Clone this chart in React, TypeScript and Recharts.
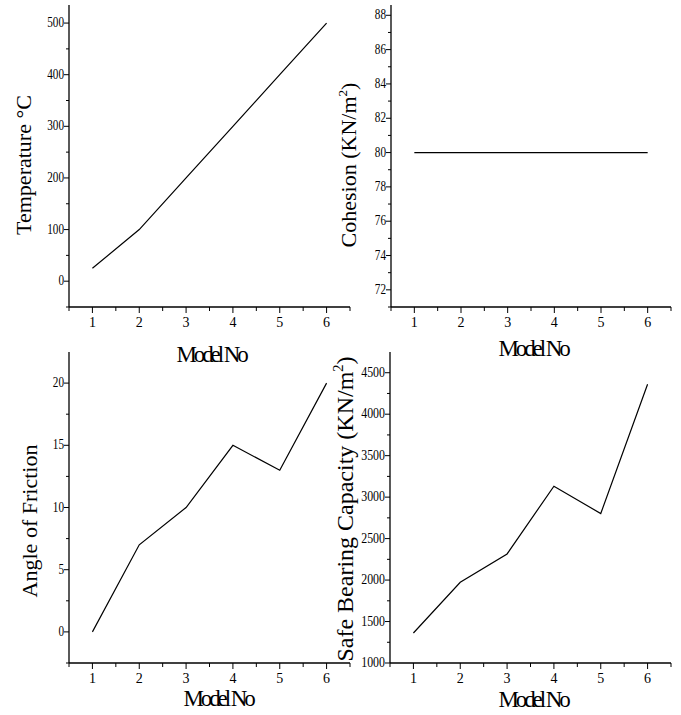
import React from 'react';
import { LineChart, Line, XAxis, YAxis, Label } from 'recharts';

const modelNo = [1, 2, 3, 4, 5, 6];
const temperature = [25, 100, 200, 300, 400, 500];
const cohesion = [80, 80, 80, 80, 80, 80];
const friction = [0, 7, 10, 15, 13, 20];
const bearing = [1362, 1974, 2315, 3132, 2802, 4362];

const xTicks = [0.5, 1, 1.5, 2, 2.5, 3, 3.5, 4, 4.5, 5, 5.5, 6, 6.5];
const tempTicks = [-50, 0, 50, 100, 150, 200, 250, 300, 350, 400, 450, 500];
const tempMajor = [0, 100, 200, 300, 400, 500];
const cohTicks = [71, 72, 73, 74, 75, 76, 77, 78, 79, 80, 81, 82, 83, 84, 85, 86, 87, 88];
const cohMajor = [72, 74, 76, 78, 80, 82, 84, 86, 88];
const fricTicks = [-2.5, 0, 2.5, 5, 7.5, 10, 12.5, 15, 17.5, 20];
const fricMajor = [0, 5, 10, 15, 20];
const bearTicks = [1000, 1250, 1500, 1750, 2000, 2250, 2500, 2750, 3000, 3250, 3500, 3750, 4000, 4250, 4500];
const bearMajor = [1000, 1500, 2000, 2500, 3000, 3500, 4000, 4500];

const FONT = '"Liberation Serif", "Times New Roman", serif';

const XTick = (props: any) => {
  const { x, y, payload } = props;
  const major = Number.isInteger(payload.value);
  return (
    <g>
      <line x1={x} y1={y} x2={x} y2={y + (major ? 6 : 4)} stroke="#000" strokeWidth={1} />
      {major && (
        <text x={x} y={y + 20} textAnchor="middle" fontSize={14} fontFamily={FONT} fill="#000">
          {payload.value}
        </text>
      )}
    </g>
  );
};

// y tick labels in the source look squeezed sideways
const makeYTick = (major: number[], squeeze: number) => (props: any) => {
  const { x, y, payload } = props;
  const isMajor = major.includes(payload.value);
  return (
    <g>
      <line x1={x - (isMajor ? 5 : 3)} y1={y} x2={x} y2={y} stroke="#000" strokeWidth={1} />
      {isMajor && (
        <text
          transform={`translate(${x - 5}, ${y + 4}) scale(${squeeze}, 1)`}
          x={0}
          y={0}
          textAnchor="end"
          fontSize={14}
          fontFamily={FONT}
          fill="#000"
        >
          {payload.value}
        </text>
      )}
    </g>
  );
};

const xTitle = (cx: number, by: number) => () => (
  <text x={cx} y={by} textAnchor="middle" fontSize={23} letterSpacing={-3.1} fontFamily={FONT} fill="#000">
    Model No
  </text>
);

const yTitle = (bx: number, cy: number, text: string, size: number, sup?: boolean) => () => (
  <text
    x={bx}
    y={cy}
    transform={`rotate(-90, ${bx}, ${cy})`}
    textAnchor="middle"
    fontSize={size}
    fontFamily={FONT}
    fill="#000"
  >
    {text}
    {sup && (
      <>
        <tspan fontSize={size * 0.6} dy={-size * 0.4}>2</tspan>
        <tspan dy={size * 0.4}>)</tspan>
      </>
    )}
  </text>
);

interface PanelProps {
  left: number;
  top: number;
  width: number;
  height: number;
  margin: { top: number; right: number; left: number; bottom: number };
  yWidth: number;
  xHeight: number;
  values: number[];
  yDomain: [number, number];
  yTicks: number[];
  yMajor: number[];
  squeeze: number;
  xLabel: () => React.ReactElement;
  yLabel: () => React.ReactElement;
}

const Panel: React.FC<PanelProps> = (p) => {
  const data = modelNo.map((m, i) => ({ model: m, value: p.values[i] }));
  return (
    <div style={{ position: 'absolute', left: p.left, top: p.top }}>
      <LineChart width={p.width} height={p.height} data={data} margin={p.margin}>
        <XAxis
          dataKey="model"
          type="number"
          domain={[0.5, 6.5]}
          ticks={xTicks}
          interval={0}
          height={p.xHeight}
          tickSize={0}
          tickMargin={0}
          tickLine={false}
          axisLine={{ stroke: '#000', strokeWidth: 1.3 }}
          tick={<XTick />}
          allowDataOverflow
        >
          <Label content={p.xLabel} />
        </XAxis>
        <YAxis
          type="number"
          domain={p.yDomain}
          ticks={p.yTicks}
          interval={0}
          width={p.yWidth}
          tickSize={0}
          tickMargin={0}
          tickLine={false}
          axisLine={{ stroke: '#000', strokeWidth: 1.3 }}
          tick={makeYTick(p.yMajor, p.squeeze)}
          allowDataOverflow
        >
          <Label content={p.yLabel} />
        </YAxis>
        <Line
          type="linear"
          dataKey="value"
          stroke="#000"
          strokeWidth={1.2}
          dot={false}
          isAnimationActive={false}
        />
      </LineChart>
    </div>
  );
};

export default function App() {
  return (
    <div style={{ position: 'absolute', left: 0, top: 0, width: 681, height: 715, background: '#fff' }}>
      <Panel
        left={0}
        top={0}
        width={355}
        height={367}
        margin={{ top: 5, right: 5, left: 0, bottom: 0 }}
        yWidth={69}
        xHeight={60}
        values={temperature}
        yDomain={[-50, 535]}
        yTicks={tempTicks}
        yMajor={tempMajor}
        squeeze={0.8}
        xLabel={xTitle(211, 362)}
        yLabel={yTitle(31, 165, 'Temperature °C', 22)}
      />
      <Panel
        left={330}
        top={0}
        width={351}
        height={367}
        margin={{ top: 5, right: 10, left: 0, bottom: 0 }}
        yWidth={61}
        xHeight={60}
        values={cohesion}
        yDomain={[71, 88.6]}
        yTicks={cohTicks}
        yMajor={cohMajor}
        squeeze={0.8}
        xLabel={xTitle(203, 356)}
        yLabel={yTitle(26, 165, 'Cohesion (KN/m', 22, true)}
      />
      <Panel
        left={0}
        top={340}
        width={355}
        height={375}
        margin={{ top: 12, right: 5, left: 0, bottom: 0 }}
        yWidth={69}
        xHeight={52}
        values={friction}
        yDomain={[-2.5, 22.5]}
        yTicks={fricTicks}
        yMajor={fricMajor}
        squeeze={0.8}
        xLabel={xTitle(218, 366)}
        yLabel={yTitle(37, 181, 'Angle of Friction', 22)}
      />
      <Panel
        left={330}
        top={340}
        width={351}
        height={375}
        margin={{ top: 12, right: 10, left: 0, bottom: 0 }}
        yWidth={60}
        xHeight={52}
        values={bearing}
        yDomain={[1000, 4750]}
        yTicks={bearTicks}
        yMajor={bearMajor}
        squeeze={0.85}
        xLabel={xTitle(203, 367)}
        yLabel={yTitle(23, 169, 'Safe Bearing Capacity (KN/m', 24, true)}
      />
    </div>
  );
}
